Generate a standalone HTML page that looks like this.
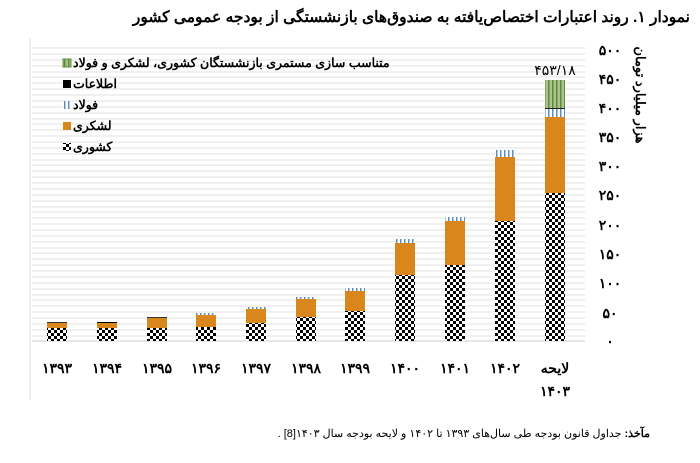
<!DOCTYPE html>
<html><head><meta charset="utf-8"><style>
body{margin:0;background:#fff;width:700px;height:458px;overflow:hidden;font-family:"Liberation Sans","Noto Sans CJK SC",sans-serif}
</style></head><body>
<svg width="700" height="458" xmlns="http://www.w3.org/2000/svg" font-family="Liberation Sans, Noto Sans CJK SC, sans-serif">
<defs>
<pattern id="chk" width="6" height="6" patternUnits="userSpaceOnUse"><rect width="6" height="6" fill="#fff"/><rect width="3" height="3" fill="#000"/><rect x="3" y="3" width="3" height="3" fill="#000"/></pattern>
<pattern id="grn" width="4" height="4" patternUnits="userSpaceOnUse"><rect width="4" height="4" fill="#a9c48f"/><rect width="1.5" height="4" fill="#5e8a3c"/></pattern>
<pattern id="ful" width="4" height="4" patternUnits="userSpaceOnUse"><rect width="4" height="4" fill="#fff"/><rect width="1.5" height="4" fill="#5b8fc0"/></pattern>
</defs>
<text x="690" y="22" font-size="15.5" font-weight="bold" text-anchor="start" direction="rtl">نمودار ۱. روند اعتبارات اختصاص‌یافته به صندوق‌های بازنشستگی از بودجه عمومی کشور</text>
<line x1="30" y1="38" x2="30" y2="400" stroke="#ddd"/>
<g stroke="#e2e2e2" stroke-width="1">
<line x1="32" x2="585" y1="48" y2="48"/><line x1="32" x2="585" y1="54" y2="54"/><line x1="32" x2="585" y1="60" y2="60"/><line x1="32" x2="585" y1="66" y2="66"/><line x1="32" x2="585" y1="72" y2="72"/><line x1="32" x2="585" y1="77" y2="77"/><line x1="32" x2="585" y1="83" y2="83"/><line x1="32" x2="585" y1="89" y2="89"/><line x1="32" x2="585" y1="95" y2="95"/><line x1="32" x2="585" y1="101" y2="101"/><line x1="32" x2="585" y1="107" y2="107"/><line x1="32" x2="585" y1="113" y2="113"/><line x1="32" x2="585" y1="119" y2="119"/><line x1="32" x2="585" y1="124" y2="124"/><line x1="32" x2="585" y1="130" y2="130"/><line x1="32" x2="585" y1="136" y2="136"/><line x1="32" x2="585" y1="142" y2="142"/><line x1="32" x2="585" y1="148" y2="148"/><line x1="32" x2="585" y1="154" y2="154"/><line x1="32" x2="585" y1="160" y2="160"/><line x1="32" x2="585" y1="165" y2="165"/><line x1="32" x2="585" y1="171" y2="171"/><line x1="32" x2="585" y1="177" y2="177"/><line x1="32" x2="585" y1="183" y2="183"/><line x1="32" x2="585" y1="189" y2="189"/><line x1="32" x2="585" y1="195" y2="195"/><line x1="32" x2="585" y1="201" y2="201"/><line x1="32" x2="585" y1="207" y2="207"/><line x1="32" x2="585" y1="212" y2="212"/><line x1="32" x2="585" y1="218" y2="218"/><line x1="32" x2="585" y1="224" y2="224"/><line x1="32" x2="585" y1="230" y2="230"/><line x1="32" x2="585" y1="236" y2="236"/><line x1="32" x2="585" y1="242" y2="242"/><line x1="32" x2="585" y1="248" y2="248"/><line x1="32" x2="585" y1="253" y2="253"/><line x1="32" x2="585" y1="259" y2="259"/><line x1="32" x2="585" y1="265" y2="265"/><line x1="32" x2="585" y1="271" y2="271"/><line x1="32" x2="585" y1="277" y2="277"/><line x1="32" x2="585" y1="283" y2="283"/><line x1="32" x2="585" y1="289" y2="289"/><line x1="32" x2="585" y1="295" y2="295"/><line x1="32" x2="585" y1="300" y2="300"/><line x1="32" x2="585" y1="306" y2="306"/><line x1="32" x2="585" y1="312" y2="312"/><line x1="32" x2="585" y1="318" y2="318"/><line x1="32" x2="585" y1="324" y2="324"/><line x1="32" x2="585" y1="330" y2="330"/><line x1="32" x2="585" y1="336" y2="336"/>
</g>
<line x1="32" x2="585" y1="341" y2="341" stroke="#ccc"/>
<g>
<rect x="47" y="328" width="20" height="13" fill="url(#chk)"/><rect x="47" y="323" width="20" height="5" fill="#d9861c"/><rect x="47" y="322" width="20" height="1" fill="#333"/>
<rect x="97" y="328" width="20" height="13" fill="url(#chk)"/><rect x="97" y="323" width="20" height="5" fill="#d9861c"/><rect x="97" y="322" width="20" height="1" fill="#000"/>
<rect x="147" y="328" width="20" height="13" fill="url(#chk)"/><rect x="147" y="318" width="20" height="10" fill="#d9861c"/><rect x="147" y="317" width="20" height="1" fill="#333"/>
<rect x="196" y="327" width="20" height="14" fill="url(#chk)"/><rect x="196" y="315" width="20" height="12" fill="#d9861c"/><rect x="196" y="313" width="20" height="2" fill="url(#ful)"/>
<rect x="246" y="323" width="20" height="18" fill="url(#chk)"/><rect x="246" y="309" width="20" height="14" fill="#d9861c"/><rect x="246" y="307" width="20" height="2" fill="url(#ful)"/>
<rect x="296" y="317" width="20" height="24" fill="url(#chk)"/><rect x="296" y="299" width="20" height="18" fill="#d9861c"/><rect x="296" y="297" width="20" height="2" fill="url(#ful)"/>
<rect x="345" y="311" width="20" height="30" fill="url(#chk)"/><rect x="345" y="291" width="20" height="20" fill="#d9861c"/><rect x="345" y="288" width="20" height="3" fill="url(#ful)"/>
<rect x="395" y="275" width="20" height="66" fill="url(#chk)"/><rect x="395" y="243" width="20" height="32" fill="#d9861c"/><rect x="395" y="239" width="20" height="4" fill="url(#ful)"/>
<rect x="445" y="265" width="20" height="76" fill="url(#chk)"/><rect x="445" y="221" width="20" height="44" fill="#d9861c"/><rect x="445" y="217" width="20" height="4" fill="url(#ful)"/>
<rect x="495" y="221" width="20" height="120" fill="url(#chk)"/><rect x="495" y="157" width="20" height="64" fill="#d9861c"/><rect x="495" y="150" width="20" height="7" fill="url(#ful)"/>
<rect x="545" y="193" width="20" height="148" fill="url(#chk)"/><rect x="545" y="117" width="20" height="76" fill="#d9861c"/><rect x="545" y="109" width="20" height="8" fill="url(#ful)"/><rect x="545" y="108" width="20" height="1" fill="#222"/><rect x="545" y="80" width="20" height="28" fill="url(#grn)"/>
</g>
<text x="555" y="75" font-size="14" text-anchor="middle">۴۵۳/۱۸</text>
<g font-size="14" font-weight="bold" text-anchor="middle">
<text x="610" y="55">۵۰۰</text><text x="610" y="84">۴۵۰</text><text x="610" y="113">۴۰۰</text><text x="610" y="142">۳۵۰</text><text x="610" y="171">۳۰۰</text><text x="610" y="200">۲۵۰</text><text x="610" y="230">۲۰۰</text><text x="610" y="259">۱۵۰</text><text x="610" y="288">۱۰۰</text><text x="610" y="318">۵۰</text><text x="610" y="346">۰</text>
</g>
<text transform="translate(636,95) rotate(90)" font-size="13" font-weight="bold" text-anchor="middle">هزار میلیارد تومان</text>
<g font-size="14" font-weight="bold" text-anchor="middle">
<text x="57" y="373">۱۳۹۳</text><text x="107" y="373">۱۳۹۴</text><text x="157" y="373">۱۳۹۵</text><text x="206" y="373">۱۳۹۶</text><text x="256" y="373">۱۳۹۷</text><text x="306" y="373">۱۳۹۸</text><text x="355" y="373">۱۳۹۹</text><text x="405" y="373">۱۴۰۰</text><text x="455" y="373">۱۴۰۱</text><text x="505" y="373">۱۴۰۲</text><text x="555" y="373">لایحه</text><text x="555" y="396">۱۴۰۳</text>
</g>
<g font-size="12.5" font-weight="bold">
<rect x="63" y="59" width="8" height="8" fill="url(#grn)" stroke="#5e8a3c"/><text x="73" y="67">متناسب سازی مستمری بازنشستگان کشوری، لشکری و فولاد</text>
<rect x="63" y="80" width="8" height="8" fill="#000"/><text x="73" y="88">اطلاعات</text>
<rect x="63" y="101" width="8" height="8" fill="url(#ful)"/><text x="73" y="109">فولاد</text>
<rect x="63" y="122" width="8" height="8" fill="#d9861c"/><text x="73" y="130">لشکری</text>
<rect x="63" y="143" width="8" height="8" fill="url(#chk)"/><text x="73" y="151">کشوری</text>
</g>
<text x="650" y="437" font-size="11" text-anchor="start" direction="rtl"><tspan font-weight="bold">مآخذ:</tspan> جداول قانون بودجه طی سال‌های ۱۳۹۳ تا ۱۴۰۲ و لایحه بودجه سال ۱۴۰۳[8] .</text>
</svg>
</body></html>
